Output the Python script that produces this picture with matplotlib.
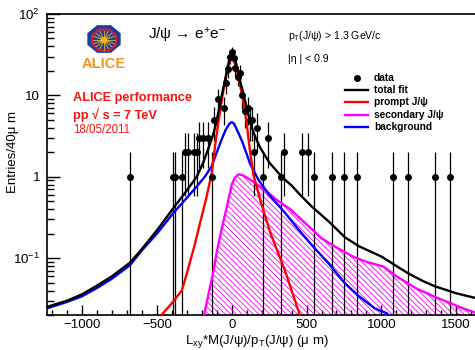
import numpy as np
import matplotlib
matplotlib.use("Agg")
import matplotlib.pyplot as plt
from matplotlib.patches import Polygon
from matplotlib.lines import Line2D
from matplotlib.ticker import FixedLocator, NullFormatter

plt.rcParams['font.family'] = ['Liberation Sans', 'DejaVu Sans']
plt.rcParams['mathtext.fontset'] = 'custom'
plt.rcParams['mathtext.rm'] = 'Liberation Sans'
plt.rcParams['mathtext.it'] = 'Liberation Sans'
plt.rcParams['mathtext.bf'] = 'Liberation Sans:bold'
plt.rcParams['mathtext.default'] = 'regular'
plt.rcParams['hatch.linewidth'] = 0.6

# ---- data histogram (entries per bin) ----
data_x = [-680, -396, -379, -334, -312, -295, -252, -232, -219, -189, -158,
          -134, -118, -90, -51, -38, -25, -11, 0, 12, 25, 39, 52, 71, 89,
          107, 119, 132, 146, 167, 207, 245, 330, 346, 468, 510, 552, 672,
          753, 836, 1076, 1176, 1359, 1459]
data_y = [1, 1, 1, 1, 2, 2, 2, 2, 3, 3, 3,
          1, 5, 9, 7, 14, 21, 30, 34, 29, 22, 17, 19, 10, 6.5,
          7, 5, 5, 2, 4, 1, 3, 1, 2, 2, 2, 1, 1,
          1, 1, 1, 1, 1, 1]

# ---- fit components ----
prompt_x = [-470, -400, -334, -300, -250, -212, -170, -134, -110, -90, -70,
            -51, -30, -15, 0, 15, 30, 50, 77, 100, 120, 145, 200, 260, 356, 457]
prompt_y = [0.02, 0.028, 0.04, 0.065, 0.14, 0.27, 0.55, 1.1, 2.5, 4.6, 8.0,
            13.0, 21.0, 26.0, 28.0, 26.5, 22.0, 15.0, 8.5, 4.5, 2.2, 1.05,
            0.45, 0.2, 0.07, 0.0195]

bkg_x = [-1240, -1100, -1000, -900, -800, -680, -600, -500, -390, -300, -234,
         -180, -134, -100, -70, -40, -15, 0, 15, 40, 70, 100, 122, 178, 250,
         356, 450, 545, 650, 757, 850, 958, 1036, 1060]
bkg_y = [0.024, 0.029, 0.034, 0.043, 0.056, 0.082, 0.125, 0.2, 0.36, 0.55, 0.76,
         1.0, 1.35, 2.0, 2.8, 3.8, 4.5, 4.7, 4.5, 3.6, 2.7, 1.9, 1.45, 0.92, 0.6,
         0.36, 0.22, 0.138, 0.085, 0.049, 0.034, 0.024, 0.021, 0.019]

sec_x = [-185, -150, -123, -100, -67, -30, 0, 20, 45, 70, 100, 150, 234, 300,
         390, 500, 601, 700, 813, 900, 1013, 1100, 1237, 1350, 1459, 1550, 1640]
sec_y = [0.02, 0.04, 0.068, 0.12, 0.23, 0.45, 0.8, 0.97, 1.07, 1.05, 0.98, 0.85,
         0.66, 0.52, 0.4, 0.26, 0.175, 0.135, 0.104, 0.09, 0.079, 0.06, 0.042,
         0.034, 0.028, 0.024, 0.021]

total_x = [-1240, -1100, -1000, -900, -800, -680, -600, -500, -400, -300, -234,
           -190, -150, -120, -100, -80, -60, -40, -20, 0, 20, 40, 60, 80, 100,
           130, 160, 189, 250, 334, 400, 457, 535, 650, 757, 850, 1003, 1100,
           1180, 1280, 1359, 1500, 1640]
total_y = [0.025, 0.03, 0.036, 0.046, 0.06, 0.088, 0.13, 0.22, 0.39, 0.68, 1.0,
           1.5, 2.4, 3.5, 5.0, 7.5, 11.5, 17.0, 26.0, 34.0, 29.0, 20.0, 14.0,
           10.0, 7.0, 4.2, 3.0, 2.3, 1.5, 1.0, 0.78, 0.6, 0.43, 0.28, 0.18,
           0.14, 0.104, 0.08, 0.065, 0.052, 0.045, 0.037, 0.032]

x_ticks = [-1000, -500, 0, 500, 1000, 1500]
y_ticks = [0.1, 1, 10, 100]
y_ticklabels = ['10$^{-1}$', '1', '10', '10$^{2}$']

W, H = 475, 350
fig = plt.figure(figsize=(W / 100, H / 100), dpi=100)


def fp(x, y):
    """pixel position (from top-left) to figure fraction"""
    return (x / W, 1 - y / H)


ax = fig.add_axes([47 / W, 35 / H, 1 - 47 / W, 301 / H])
ax.set_yscale('log')
ax.set_xlim(-1235, 1626)
ax.set_ylim(0.02, 100)

YMIN = 0.02
# secondary J/psi: hatched area
ax.fill_between(sec_x, YMIN * 0.5, sec_y, facecolor='none', edgecolor='#ff00ff',
                hatch='\\' * 6, linewidth=0, zorder=2)

# data error bars
dx = np.array(data_x, float)
dy = np.array(data_y, float)
err = np.sqrt(dy)
lo = np.maximum(dy - err, 1e-3)
hi = dy + err
ax.vlines(dx, lo, hi, colors='black', linewidth=0.9, zorder=3)

lw = 1.7
ax.plot(sec_x, sec_y, color='#ff00ff', lw=lw, zorder=4)
ax.plot(bkg_x, bkg_y, color='#0000ff', lw=lw, zorder=4)
ax.plot(prompt_x, prompt_y, color='#ff0000', lw=lw, zorder=4)
ax.plot(total_x, total_y, color='black', lw=lw, zorder=5)
ax.plot(dx, dy, 'o', color='black', markersize=4, zorder=6)

# axes styling
for side in ('left', 'bottom', 'top'):
    ax.spines[side].set_linewidth(1.2)
ax.spines['right'].set_visible(False)
ax.xaxis.set_major_locator(FixedLocator(x_ticks))
ax.xaxis.set_minor_locator(FixedLocator(np.arange(-1200, 1700, 100)))
ax.set_yticks(y_ticks)
ax.set_yticklabels(y_ticklabels)
ax.yaxis.set_minor_locator(FixedLocator(
    [m * 10.0 ** e for e in (-2, -1, 0, 1) for m in range(2, 10)]))
ax.yaxis.set_minor_formatter(NullFormatter())
ax.tick_params(which='both', direction='in', top=False, right=False,
               labelsize=9.5, width=1.0)
ax.tick_params(axis='y', which='major', length=9, pad=5)
ax.tick_params(axis='y', which='minor', length=5)
ax.tick_params(axis='x', which='major', length=7, pad=3)
ax.tick_params(axis='x', which='minor', length=3.5)

fig.text(*fp(185, 341), r'L$_{xy}$*M(J/ψ)/p$_{T}$(J/ψ) (μ m)', fontsize=9.5,
         ha='left', va='center')
fig.text(*fp(13, 152), 'Entries/40μ m', fontsize=9.5, rotation=90,
         ha='center', va='center')

# titles and labels
fig.text(*fp(148, 35), r'J/ψ → e$^{+}$e$^{-}$', fontsize=11, ha='left', va='center')
fig.text(*fp(288, 36), r'p$_{T}$(J/ψ) > 1.3 GeV/c', fontsize=7.6, ha='left', va='center')
fig.text(*fp(288, 59), '|η | < 0.9', fontsize=7.6, ha='left', va='center')

red = '#ff1010'
fig.text(*fp(73, 98), 'ALICE performance', fontsize=9.2, fontweight='bold',
         color=red, ha='left', va='center')
fig.text(*fp(73, 115), 'pp √ s = 7 TeV', fontsize=9.2, fontweight='bold',
         color=red, ha='left', va='center')
fig.text(*fp(73, 130), '18/05/2011', fontsize=8.3, color=red, ha='left', va='center')

# legend
leg_rows = [('data', None, 78.3), ('total fit', 'black', 90),
            ('prompt J/ψ', '#ff0000', 101.7), ('secondary J/ψ', '#ff00ff', 115),
            ('background', '#0000ff', 126.7)]
for label, col, yy in leg_rows:
    if col is None:
        fig.add_artist(Line2D([fp(356.7, yy)[0]], [fp(356.7, yy)[1]], marker='o',
                              color='black', markersize=4, linestyle='none'))
    else:
        (x0, y0), (x1, _) = fp(345, yy), fp(368, yy)
        fig.add_artist(Line2D([x0, x1], [y0, y0], color=col, lw=1.7))
    fig.text(*fp(374, yy), label, fontsize=7.3, fontweight='bold', ha='left',
             va='center')

# ALICE logo
def octagon(cx, cy, rx, ry):
    pts = []
    for k in range(8):
        a = np.pi / 8 + k * np.pi / 4
        pts.append(fp(cx + rx * np.cos(a), cy + ry * np.sin(a)))
    return pts

cx, cy = 104, 39
fig.add_artist(Polygon(octagon(cx, cy, 18, 15), closed=True, facecolor='#1c3c9c',
                       edgecolor='none', transform=fig.transFigure))
fig.add_artist(Polygon(octagon(cx, cy + 1, 14, 12.5), closed=True, facecolor='#e02020',
                       edgecolor='none', transform=fig.transFigure))
fig.add_artist(Polygon(octagon(cx, cy + 1, 12, 10.5), closed=True, facecolor='#2a3f9a',
                       edgecolor='none', transform=fig.transFigure))
for k in range(16):
    a = k * np.pi / 8
    p0 = fp(cx, cy + 1)
    p1 = fp(cx + 11 * np.cos(a), cy + 1 + 9.5 * np.sin(a))
    fig.add_artist(Line2D([p0[0], p1[0]], [p0[1], p1[1]], color='#f5c020', lw=0.6,
                          alpha=0.9))
fig.add_artist(Polygon(octagon(cx, cy + 1, 4, 3.5), closed=True, facecolor='#f08020',
                       edgecolor='none', transform=fig.transFigure))
fig.text(*fp(104, 64), 'ALICE', fontsize=10.5, fontweight='bold', color='#f7941d',
         ha='center', va='center')

fig.savefig('out.png', dpi=100)
